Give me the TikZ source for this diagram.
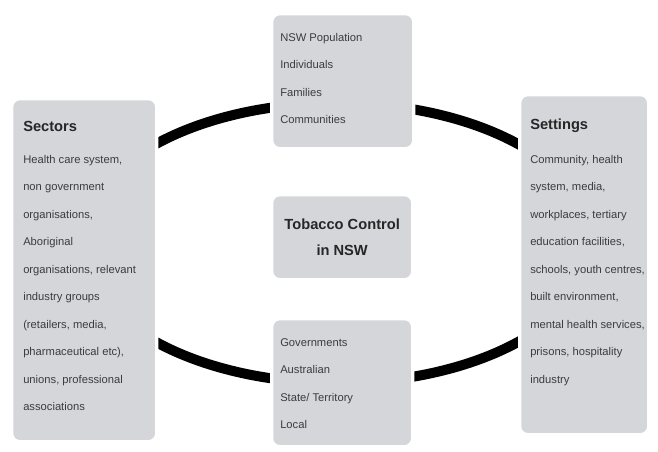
\documentclass[tikz,border=0pt]{standalone}
\usepackage{fontspec}
\setmainfont{Liberation Sans}
\usepackage{xcolor}
\definecolor{boxgrey}{RGB}{212,214,218}
\definecolor{txtgrey}{RGB}{60,60,60}

\begin{document}
\begin{tikzpicture}[x=0.75pt, y=-0.75pt,
    every node/.style={inner sep=0pt, text=txtgrey},
    box/.style={fill=boxgrey, draw=white, line width=2.5pt, rounded corners=6pt, anchor=north west},
    body/.style={anchor=north west, align=left, font=\fontsize{8.4}{20.6}\selectfont},
    head/.style={anchor=north west, font=\bfseries\fontsize{11}{13}\selectfont, text=black!85}]
    \useasboundingbox (0,0) rectangle (658,451);

    % ring behind the boxes
    \coordinate (ring) at (337,243);
    \draw[line width=7.5pt] (ring) ellipse [x radius=192pt, y radius=105pt];

    % boxes
    \node[box, minimum width=108.75pt, minimum height=257.25pt] (sectors) at (10,97) {};
    \node[box, minimum width=96.75pt, minimum height=255pt] (settings) at (518,93) {};
    \node[box, minimum width=106.5pt, minimum height=101.25pt] (population) at (270,12) {};
    \node[box, minimum width=105.75pt, minimum height=63.75pt] (control) at (270,193) {};
    \node[box, minimum width=105.75pt, minimum height=96pt] (governments) at (270,317) {};

    % texts
    \node[head] (sectors-head) at (23,121) {Sectors};
    \node[body] (sectors-body) at (23,155) {Health care system,\\non government\\organisations,\\Aboriginal\\organisations, relevant\\industry groups\\(retailers, media,\\pharmaceutical etc),\\unions, professional\\associations};
    \node[head] (settings-head) at (530,119) {Settings};
    \node[body] (settings-body) at (530,155) {Community, health\\system, media,\\workplaces, tertiary\\education facilities,\\schools, youth centres,\\built environment,\\mental health services,\\prisons, hospitality\\industry};
    \node[body] (population-body) at (280,33) {NSW Population\\Individuals\\Families\\Communities};
    \node[align=center, font=\bfseries\fontsize{11}{19.5}\selectfont, text=black!85] (control-text) at (control.center) {Tobacco Control\\in NSW};
    \node[body] (governments-body) at (280,338) {Governments\\Australian\\State/ Territory\\Local};
\end{tikzpicture}
\end{document}
